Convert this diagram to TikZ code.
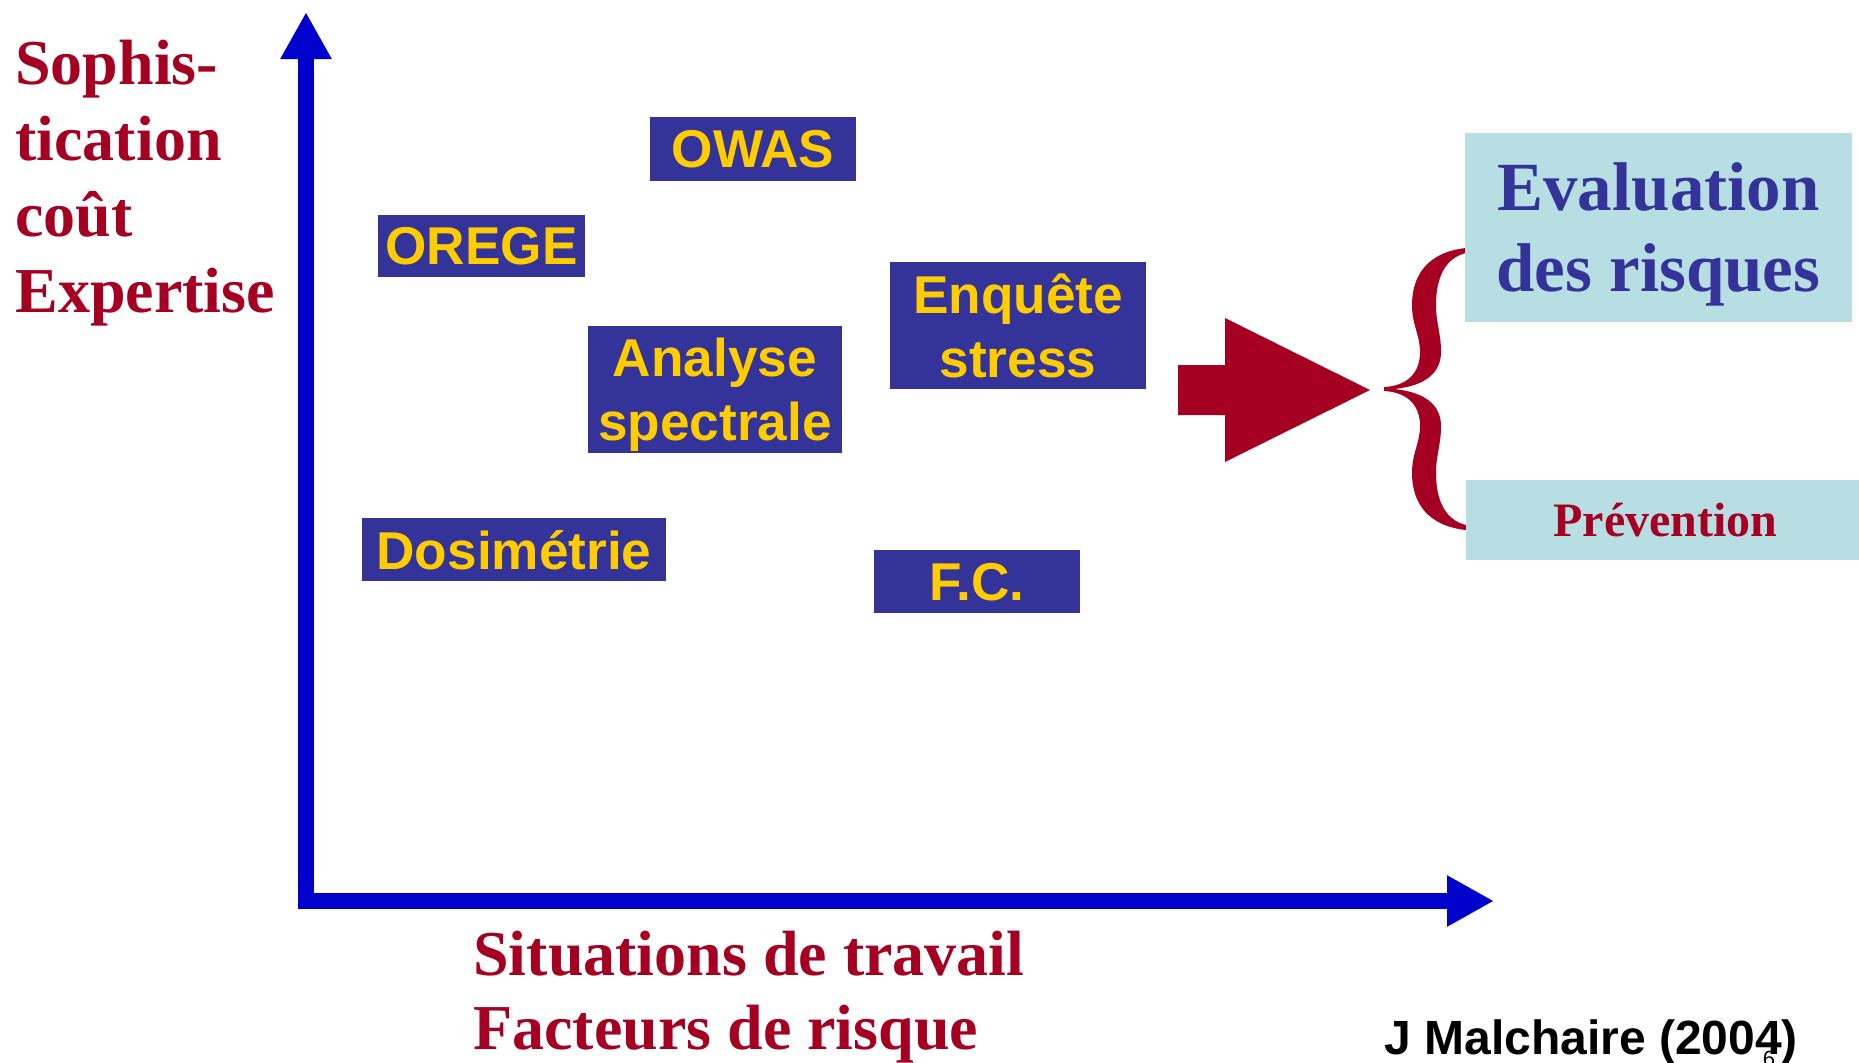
\documentclass[tikz,border=0pt]{standalone}
\usepackage{fontspec}
\setmainfont{Liberation Serif}
\setsansfont{Liberation Sans}
\usepackage{tikz}
\usetikzlibrary{arrows.meta,positioning}
\definecolor{axisblue}{HTML}{0000CC}
\definecolor{boxblue}{HTML}{333399}
\definecolor{boxyellow}{HTML}{FFCC00}
\definecolor{darkred}{HTML}{A50021}
\definecolor{paleteal}{HTML}{B7DFE3}

\begin{document}
\begin{tikzpicture}[x=0.5pt, y=-0.5pt,
  methode/.style={fill=boxblue, text=boxyellow, inner sep=0pt, align=center,
    text depth=0pt, font=\sffamily\bfseries\fontsize{26.6}{32}\selectfont},
  resultat/.style={fill=paleteal, inner sep=0pt, align=center, text depth=0pt},
  axe/.style={axisblue, line width=8pt, line join=miter,
    {Triangle[length=23.5pt,width=24pt]}-{Triangle[length=23.5pt,width=24pt]}},
  titre/.style={darkred, inner sep=0pt, align=left}]

\useasboundingbox (0,0) rectangle (1859,1062);

% Axes
\coordinate (ytip) at (306,12);
\coordinate (xtip) at (1494,901);
\draw[axe] (ytip) |- (xtip);

% Axis titles
\node[titre, anchor=north west, font=\bfseries\fontsize{32}{38}\selectfont]
  (axey) at (15,40) {Sophis-\\tication\\coût\\Expertise};
\node[titre, anchor=north west, font=\bfseries\fontsize{32}{37}\selectfont]
  (axex) at (473,931) {Situations de travail\\Facteurs de risque};

% Methods
\node[methode, minimum width=103pt, minimum height=32pt] (owas) at (753,149) {OWAS};
\node[methode, minimum width=103.5pt, minimum height=31pt] (orege) at (481.5,246) {OREGE};
\node[methode, minimum width=127pt, minimum height=63.5pt] (spectre) at (715,389.5) {Analyse\\spectrale};
\node[methode, minimum width=128pt, minimum height=63.5pt] (stress) at (1018,325.5) {Enquête\\stress};
\node[methode, minimum width=152pt, minimum height=31.5pt] (dosi) at (514,549.5) {Dosimétrie};
\node[methode, minimum width=103pt, minimum height=31.5pt] (fc) at (977,581.5) {F.C.};

% Big arrow
\fill[darkred] (1178,365) -- (1225,365) -- (1225,318) -- (1370,390)
  -- (1225,462) -- (1225,415) -- (1178,415) -- cycle;

% Brace
\fill[darkred] (1466,248) .. controls (1428,252) and (1412,275) .. (1412,305)
  .. controls (1412,325) and (1420,335) .. (1420,352)
  .. controls (1420,375) and (1405,386) .. (1384,387)
  -- (1384,391)
  .. controls (1405,392) and (1420,403) .. (1420,426)
  .. controls (1420,443) and (1412,453) .. (1412,473)
  .. controls (1412,503) and (1428,526) .. (1466,530)
  -- (1466,525)
  .. controls (1445,520) and (1436,500) .. (1436,473)
  .. controls (1436,455) and (1441,445) .. (1441,426)
  .. controls (1441,405) and (1425,392) .. (1394,389)
  .. controls (1425,386) and (1441,373) .. (1441,352)
  .. controls (1441,333) and (1436,323) .. (1436,305)
  .. controls (1436,278) and (1445,258) .. (1466,253) -- cycle;

% Results
\node[resultat, minimum width=193.5pt, minimum height=94.5pt, text=boxblue,
  font=\bfseries\fontsize{34.5}{40.5}\selectfont] (evaluation) at (1658.5,227.5) {Evaluation\\des risques};
\node[resultat, minimum width=200pt, minimum height=40pt, text=darkred,
  font=\bfseries\fontsize{24}{28}\selectfont] (prevention) at (1665.5,520) {Prévention};

% Source
\node[anchor=base west, inner sep=0pt, font=\sffamily\bfseries\fontsize{24}{28}\selectfont]
  (auteur) at (1384,1054) {J Malchaire (2004)};
\node[anchor=base, inner sep=0pt, font=\sffamily\fontsize{11}{13}\selectfont]
  (page) at (1769,1066) {6};

\end{tikzpicture}
\end{document}
